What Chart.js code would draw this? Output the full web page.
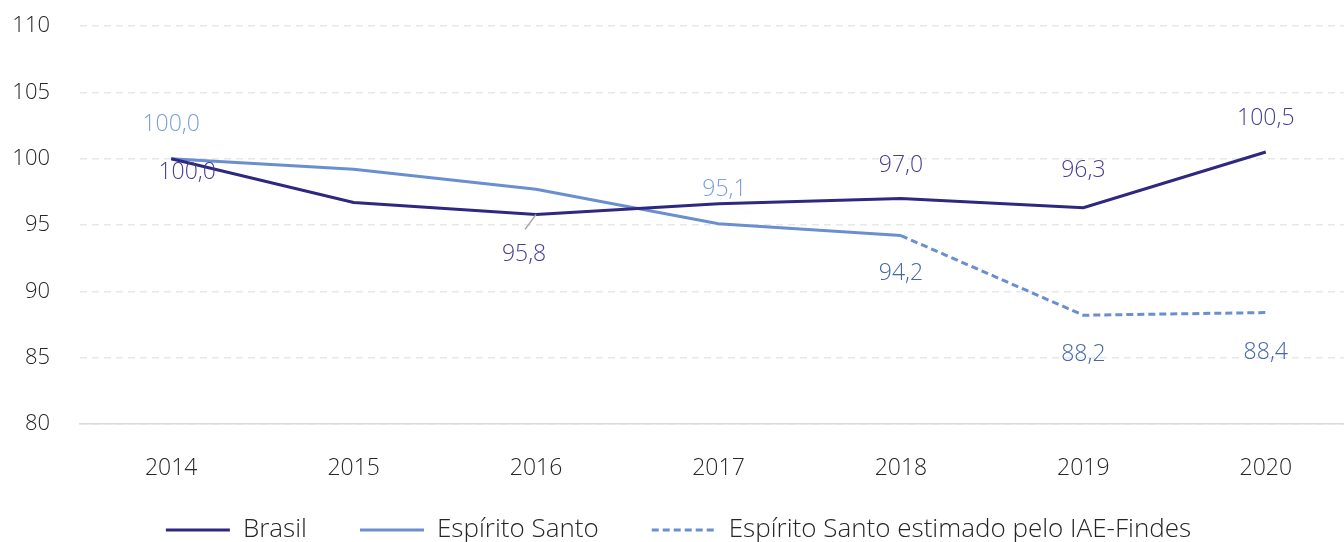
<!DOCTYPE html>
<html>
<head>
<meta charset="utf-8">
<script src="https://cdn.jsdelivr.net/npm/chart.js@4"></script>
<style>
  html, body { margin: 0; padding: 0; background: #fff; overflow: hidden; }
  #wrap { width: 1357px; height: 542px; }
</style>
</head>
<body>
<div id="wrap"><canvas id="chart"></canvas></div>
<script>
// Values
const years = ["2014", "2015", "2016", "2017", "2018", "2019", "2020"];
const brasil = [100.0, 96.7, 95.8, 96.6, 97.0, 96.3, 100.5];
const espiritoSanto = [100.0, 99.2, 97.7, 95.1, 94.2, null, null];
const esEstimado = [null, null, null, null, 94.2, 88.2, 88.4];
const yTicks = [80, 85, 90, 95, 100, 105, 110];

const FONT = "'Open Sans', 'Noto Sans', sans-serif";

// which points get a value label, and where it sits relative to the point
const labelSpots = [
  { color: "#463d94", spots: { 0: [16, 14], 2: [-12, 40, true], 4: [0, -33], 5: [0, -37], 6: [0, -34] } },
  { color: "#7b9fdb", spots: { 0: [0, -34], 3: [6, -34], 4: [0, 38] }, alt: { 4: "#4466aa" } },
  { color: "#4466aa", spots: { 5: [0, 39], 6: [0, 40] } }
];

const valueLabels = {
  id: "valueLabels",
  afterDatasetsDraw(chart) {
    const ctx = chart.ctx;
    ctx.save();
    ctx.font = "300 23px " + FONT;
    ctx.textAlign = "center";
    ctx.textBaseline = "middle";
    labelSpots.forEach((cfg, di) => {
      const meta = chart.getDatasetMeta(di);
      const data = chart.data.datasets[di].data;
      Object.keys(cfg.spots).forEach(k => {
        const i = +k;
        const pt = meta.data[i];
        if (!pt || data[i] == null) return;
        const [dx, dy, leader] = cfg.spots[k];
        if (leader) {
          ctx.strokeStyle = "#a6a6a6";
          ctx.lineWidth = 1.5;
          ctx.beginPath();
          ctx.moveTo(pt.x, pt.y);
          ctx.lineTo(pt.x + dx + 1, pt.y + dy - 25);
          ctx.stroke();
        }
        ctx.fillStyle = (cfg.alt && cfg.alt[i]) || cfg.color;
        ctx.fillText(data[i].toFixed(1).replace(".", ","), pt.x + dx, pt.y + dy);
      });
    });
    ctx.restore();
  }
};

// legend padding gives the wide gaps between items; pull the row up a bit
// so that padding doesn't also push it down vertically
const legendTighten = {
  id: "legendTighten",
  afterInit(chart) {
    if (chart.legend) chart.legend._computeTitleHeight = () => -23;
  }
};

new Chart(document.getElementById("chart"), {
  type: "line",
  data: {
    labels: years,
    datasets: [
      { label: "Brasil", data: brasil, borderColor: "#2e2880", backgroundColor: "#2e2880",
        borderWidth: 3, pointRadius: 0, tension: 0 },
      { label: "Espírito Santo", data: espiritoSanto, borderColor: "#6a8fd0", backgroundColor: "#6a8fd0",
        borderWidth: 3, pointRadius: 0, tension: 0 },
      { label: "Espírito Santo estimado pelo IAE-Findes", data: esEstimado, borderColor: "#6a8fd0",
        backgroundColor: "#6a8fd0", borderWidth: 3, borderDash: [7, 4], pointRadius: 0, tension: 0 }
    ]
  },
  options: {
    responsive: true,
    maintainAspectRatio: false,
    animation: false,
    layout: { padding: { top: 0, bottom: -11 } },
    plugins: {
      tooltip: { enabled: false },
      legend: {
        position: "bottom",
        labels: {
          usePointStyle: true,
          pointStyle: "line",
          pointStyleWidth: 64,
          padding: 53,
          color: "#262626",
          font: { family: FONT, size: 26, weight: 300 },
          generateLabels(chart) {
            const base = Chart.defaults.plugins.legend.labels.generateLabels(chart);
            return base.map((item, i) => {
              const ds = chart.data.datasets[i];
              return Object.assign(item, {
                lineDash: ds.borderDash || [],
                lineWidth: 3,
                strokeStyle: ds.borderColor,
                pointStyle: "line"
              });
            });
          }
        }
      }
    },
    scales: {
      x: {
        offset: true,
        afterFit(scale) { scale.height = 63; },
        grid: { display: false },
        border: { display: true, color: "#d9d9d9", width: 1.5 },
        ticks: { color: "#262626", padding: 23, font: { family: FONT, size: 23, weight: 300 } }
      },
      y: {
        min: 80,
        max: 110,
        afterFit(scale) {
          scale.width = 80;
          scale.paddingTop = 26;
          scale.paddingBottom = 0;
        },
        afterBuildTicks(scale) { scale.ticks = yTicks.map(v => ({ value: v })); },
        grid: { color: "#e8e8e8", lineWidth: 1.5, tickLength: 0, drawTicks: false },
        border: { display: false, dash: [7, 5] },
        ticks: { color: "#262626", padding: 30, font: { family: FONT, size: 22, weight: 300 } }
      }
    }
  },
  plugins: [valueLabels, legendTighten]
});
</script>
</body>
</html>
